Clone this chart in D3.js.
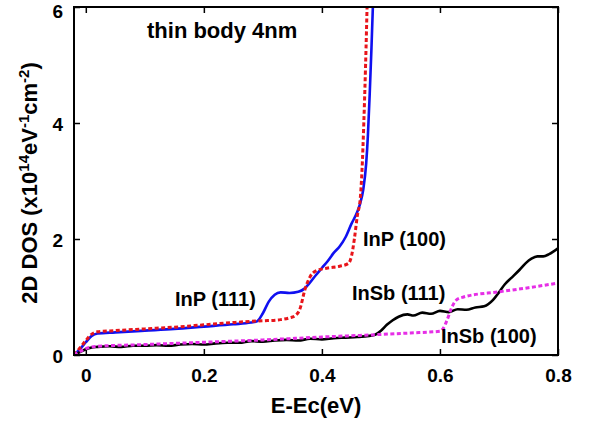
<!DOCTYPE html>
<html>
<head>
<meta charset="utf-8">
<script src="https://cdn.jsdelivr.net/npm/d3@7"></script>
<style>
  body{margin:0;background:#fff;}
  #dosChart{width:594px;height:425px;}
  text{font-family:"Liberation Sans",Arial,Helvetica,sans-serif;font-weight:bold;fill:#000;}
</style>
</head>
<body>
<div id="dosChart"></div>
<script>
// tick labels
var xTicks=[0,0.2,0.4,0.6,0.8];
var yTicks=[0,2,4,6];

// InP (111)  blue solid
var inp111X=[-0.02,-0.01,0,0.01,0.02,0.05,0.1,0.15,0.2,0.25,0.28,0.29,0.3,0.31,0.32,0.33,0.345,0.36,0.37,0.38,0.39,0.4,0.41,0.42,0.43,0.44,0.45,0.46,0.465,0.47,0.475,0.478,0.481,0.484,0.487];
var inp111Y=[0,0.1,0.22,0.33,0.37,0.39,0.42,0.45,0.49,0.53,0.56,0.58,0.72,0.92,1.04,1.08,1.07,1.09,1.14,1.25,1.38,1.5,1.62,1.76,1.87,2.03,2.26,2.47,2.62,2.85,3.3,3.8,4.5,5.3,6.2];

// InP (100)  red dotted
var inp100X=[-0.02,-0.01,0,0.01,0.02,0.05,0.1,0.15,0.2,0.25,0.28,0.3,0.33,0.345,0.355,0.363,0.371,0.38,0.39,0.41,0.43,0.445,0.45,0.455,0.46,0.465,0.468,0.471,0.474,0.477];
var inp100Y=[0,0.12,0.25,0.36,0.4,0.42,0.45,0.48,0.52,0.56,0.58,0.59,0.61,0.64,0.68,0.8,1.12,1.35,1.45,1.5,1.53,1.58,1.7,2.0,2.4,2.7,3.2,4.0,5.0,6.2];

// InSb (111)  black solid
var insb111X=[-0.02,-0.01,0,0.01,0.02,0.04,0.06,0.08,0.1,0.12,0.14,0.16,0.18,0.2,0.22,0.24,0.26,0.28,0.3,0.32,0.34,0.36,0.38,0.4,0.42,0.44,0.46,0.48,0.49,0.5,0.51,0.52,0.53,0.545,0.555,0.57,0.585,0.6,0.615,0.63,0.645,0.66,0.675,0.69,0.7,0.71,0.72,0.735,0.745,0.755,0.765,0.775,0.785,0.8];
var insb111Y=[0,0.05,0.1,0.13,0.14,0.15,0.14,0.16,0.16,0.17,0.16,0.18,0.19,0.18,0.2,0.21,0.21,0.24,0.23,0.25,0.26,0.25,0.28,0.27,0.29,0.3,0.31,0.33,0.35,0.42,0.52,0.6,0.66,0.7,0.68,0.73,0.71,0.76,0.74,0.79,0.78,0.82,0.84,0.95,1.08,1.22,1.32,1.47,1.58,1.66,1.7,1.7,1.74,1.84];

// InSb (100)  magenta dotted
var insb100X=[-0.02,-0.01,0,0.01,0.02,0.1,0.2,0.3,0.4,0.49,0.55,0.6,0.605,0.612,0.62,0.628,0.64,0.7,0.75,0.8];
var insb100Y=[0,0.06,0.11,0.14,0.15,0.18,0.22,0.26,0.31,0.35,0.38,0.41,0.45,0.6,0.82,0.95,1.0,1.09,1.16,1.24];

var seriesNames=["InP (111)","InP (100)","InSb (111)","InSb (100)"];

/*画布尺寸*/
var svgWidth=594,svgHeight=425;
var margin={left:74,top:7,right:36,bottom:70};
var w=svgWidth-margin.left-margin.right;
var h=svgHeight-margin.top-margin.bottom;

var svg=d3.select("#dosChart").append("svg")
    .attr("width",svgWidth)
    .attr("height",svgHeight);

var g=svg.append("g")
    .attr("transform","translate("+margin.left+","+margin.top+")");

/*比例尺*/
var x=d3.scaleLinear().domain([-0.02,0.8]).range([0,w]);
var y=d3.scaleLinear().domain([0,6]).range([h,0]);

g.append("clipPath").attr("id","plotClip")
    .append("rect").attr("width",w).attr("height",h);

/*坐标轴，刻度朝内*/
var xFmt=function(d){return d===0?"0":d3.format(".1f")(d);};
g.append("g").attr("transform","translate(0,"+h+")")
    .call(d3.axisBottom(x).tickValues(xTicks).tickFormat(xFmt).tickSizeInner(-6).tickSizeOuter(0).tickPadding(14));
g.append("g")
    .call(d3.axisTop(x).tickValues(xTicks).tickFormat("").tickSizeInner(-6).tickSizeOuter(0));
var yAxisG=g.append("g")
    .call(d3.axisLeft(y).tickValues(yTicks).tickFormat(d3.format("d")).tickSizeInner(-6).tickSizeOuter(0).tickPadding(11));
yAxisG.selectAll("text").attr("dy",function(d){return d===6?"0.56em":"0.42em";});
g.append("g").attr("transform","translate("+w+",0)")
    .call(d3.axisRight(y).tickValues(yTicks).tickFormat("").tickSizeInner(-6).tickSizeOuter(0));

g.selectAll(".domain").remove();
g.selectAll(".tick line").attr("stroke","#000").attr("stroke-width",1.5);
g.selectAll(".tick text").style("font-size","19px").attr("font-family",null);

/*曲线*/
var line=d3.line()
    .x(function(d){return x(d[0]);})
    .y(function(d){return y(d[1]);})
    .curve(d3.curveMonotoneX);

var curves=[
    {xs:inp111X,ys:inp111Y,color:"#1010f0",dash:null},
    {xs:inp100X,ys:inp100Y,color:"#e8141a",dash:"4,2.5"},
    {xs:insb111X,ys:insb111Y,color:"#000000",dash:null},
    {xs:insb100X,ys:insb100Y,color:"#e62ee6",dash:"4,2.5"}
];

var lines=g.append("g").attr("clip-path","url(#plotClip)");
curves.forEach(function(c){
    var pts=c.xs.map(function(v,i){return [v,c.ys[i]];});
    lines.append("path")
        .datum(pts)
        .attr("d",line)
        .attr("fill","none")
        .attr("stroke",c.color)
        .attr("stroke-width",c.dash?3:2.6)
        .attr("stroke-dasharray",c.dash);
});

/*边框*/
g.append("rect")
    .attr("width",w).attr("height",h)
    .attr("fill","none").attr("stroke","#000").attr("stroke-width",2);

/*标注*/
var labelPos=[[175,306],[363,246],[352,300],[441,343]];
seriesNames.forEach(function(n,i){
    svg.append("text")
        .attr("x",labelPos[i][0]).attr("y",labelPos[i][1])
        .style("font-size","20px")
        .text(n);
});

svg.append("text")
    .attr("x",147).attr("y",38)
    .style("font-size","22px")
    .text("thin body 4nm");

/*轴标题*/
svg.append("text")
    .attr("x",316).attr("y",413)
    .attr("text-anchor","middle")
    .style("font-size","22px")
    .text("E-Ec(eV)");

var yt=svg.append("text")
    .attr("transform","translate(37,183) rotate(-90)")
    .attr("text-anchor","middle")
    .style("font-size","22px");
yt.append("tspan").text("2D DOS (x10");
yt.append("tspan").attr("dy",-8).style("font-size","15px").text("14");
yt.append("tspan").attr("dy",8).text("eV");
yt.append("tspan").attr("dy",-8).style("font-size","15px").text("-1");
yt.append("tspan").attr("dy",8).text("cm");
yt.append("tspan").attr("dy",-8).style("font-size","15px").text("-2");
yt.append("tspan").attr("dy",8).text(")");
</script>
</body>
</html>
